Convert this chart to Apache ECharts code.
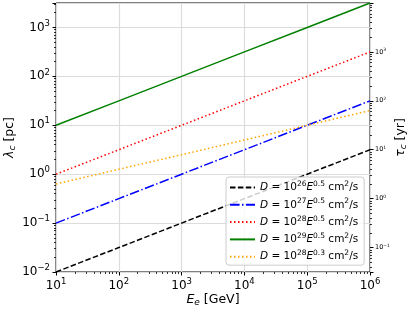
<!DOCTYPE html>
<html>
<head>
<meta charset="utf-8">
<script src="https://cdn.jsdelivr.net/npm/echarts@6/dist/echarts.min.js"></script>
<style>html,body{margin:0;padding:0;background:#fff;}#c{width:415px;height:312px;}</style>
</head>
<body>
<div id="c"></div>
<script>
// Data
const energies = [10, 100, 1000, 10000, 100000, 1000000];           // E_e [GeV]
const lamD26 = [0.01, 0.0316, 0.1, 0.316, 1.0, 3.16];              // D=1e26 E^0.5
const lamD27 = [0.1, 0.316, 1.0, 3.16, 10, 31.6];                  // D=1e27 E^0.5
const lamD28 = [1.0, 3.16, 10, 31.6, 100, 316];                    // D=1e28 E^0.5
const lamD29 = [10, 31.6, 100, 316, 1000, 3160];                   // D=1e29 E^0.5
const lamD28b = [0.63, 1.26, 2.5, 5.0, 10, 20];                    // D=1e28 E^0.3
const seriesNames = ['D26', 'D27', 'D28', 'D29', 'D28b'];
const legendLabels = {
  D26: '{i|D}{n| = 10}{s|26}{i|E}{s|0.5}{n| cm}{s|2}{n|/s}',
  D27: '{i|D}{n| = 10}{s|27}{i|E}{s|0.5}{n| cm}{s|2}{n|/s}',
  D28: '{i|D}{n| = 10}{s|28}{i|E}{s|0.5}{n| cm}{s|2}{n|/s}',
  D29: '{i|D}{n| = 10}{s|29}{i|E}{s|0.5}{n| cm}{s|2}{n|/s}',
  D28b: '{i|D}{n| = 10}{s|28}{i|E}{s|0.3}{n| cm}{s|2}{n|/s}'
};
const xRange = [10, 1e6];
const yRange = [0.01, 3162];
const tauRange = [0.0316, 9990];

const FONT = 'DejaVu Sans';
function minorTicks(lo, hi) {
  const out = [];
  for (let d = Math.floor(Math.log10(lo)); d <= Math.ceil(Math.log10(hi)); d++) {
    for (let k = 2; k <= 9; k++) {
      const v = k * Math.pow(10, d);
      if (v >= lo && v <= hi) out.push(v);
    }
  }
  return out;
}
function powLabel(v) {
  const e = Math.log10(v);
  const r = Math.round(e);
  if (Math.abs(e - r) > 1e-6) return '';
  return '{b|10}{s|' + (r < 0 ? '\u2212' + (-r) : r) + '}';
}
const bigRich = {
  b: {fontFamily: FONT, fontSize: 12, color: '#000'},
  s: {fontFamily: FONT, fontSize: 8.5, color: '#000', padding: [0, 0, 8, 0]}
};
const smallRich = {
  b: {fontFamily: FONT, fontSize: 6.5, color: '#000'},
  s: {fontFamily: FONT, fontSize: 4.5, color: '#000', padding: [0, 0, 4, 0]}
};
const nameRich = {
  n: {fontFamily: FONT, fontSize: 12.5, color: '#000'},
  g: {fontFamily: FONT, fontSize: 12.5, color: '#000', fontStyle: 'italic'},
  u: {fontFamily: FONT, fontSize: 9, color: '#000', fontStyle: 'italic', padding: [5, 0, 0, 0]}
};
function majorAxis(base) {
  return Object.assign({
    type: 'log', logBase: 10,
    axisLine: {show: false},
    axisTick: {show: true, length: 3.5, lineStyle: {color: '#000', width: 1}},
    minorTick: {show: false},
    splitLine: {show: true, lineStyle: {color: '#dcdcdc', width: 1.2}}
  }, base);
}
function minorAxis(base, lo, hi) {
  return Object.assign({
    type: 'log', logBase: 10, min: lo, max: hi,
    axisLine: {show: false},
    axisLabel: {show: false},
    splitLine: {show: false},
    axisTick: {show: true, length: 2, customValues: minorTicks(lo, hi), lineStyle: {color: '#000', width: 0.8}}
  }, base);
}

const styles = {
  D26: {color: '#000000', type: [5.5, 2.4]},
  D27: {color: '#0000ff', type: [9.6, 2.4, 1.5, 2.4]},
  D28: {color: '#ff0000', type: [1.5, 2.5]},
  D29: {color: '#008000', type: 'solid'},
  D28b: {color: '#ffa500', type: [1.5, 2.5]}
};
const seriesData = {D26: lamD26, D27: lamD27, D28: lamD28, D29: lamD29, D28b: lamD28b};

const chart = echarts.init(document.getElementById('c'), null, {renderer: 'canvas'});
chart.setOption({
  animation: false,
  backgroundColor: '#fff',
  grid: {left: 56, right: 45, top: 3, bottom: 40, containLabel: false, outerBoundsMode: 'none',
         show: true, borderColor: '#000', borderWidth: 1, backgroundColor: 'transparent'},
  xAxis: [
    majorAxis({
      min: xRange[0], max: xRange[1], position: 'bottom',
      axisLabel: {formatter: powLabel, rich: bigRich, margin: 5, showMinLabel: true, showMaxLabel: true},
      name: '{g|E}{u|e}{n| [GeV]}', nameLocation: 'middle', nameGap: 21, nameMoveOverlap: false,
      nameTextStyle: {rich: nameRich}
    }),
    minorAxis({position: 'bottom'}, xRange[0], xRange[1])
  ],
  yAxis: [
    majorAxis({
      min: yRange[0], max: yRange[1], position: 'left',
      axisLabel: {formatter: powLabel, rich: bigRich, margin: 6},
      name: '{g|\u03bb}{u|c}{n| [pc]}', nameLocation: 'middle', nameGap: 39, nameRotate: 90, nameMoveOverlap: false,
      nameTextStyle: {rich: nameRich}
    }),
    minorAxis({position: 'left'}, yRange[0], yRange[1]),
    majorAxis({
      min: tauRange[0], max: tauRange[1], position: 'right',
      splitLine: {show: false},
      axisLabel: {formatter: powLabel, rich: smallRich, margin: 5},
      name: '{g|\u03c4}{u|c}{n| [yr]}', nameLocation: 'middle', nameGap: 24, nameRotate: 90, nameMoveOverlap: false,
      nameTextStyle: {rich: nameRich}
    }),
    minorAxis({position: 'right'}, tauRange[0], tauRange[1])
  ],
  legend: {
    orient: 'vertical', left: 226, top: 177,
    data: seriesNames,
    itemWidth: 25, itemHeight: 10, itemGap: 4.3,
    padding: [3, 6, 3, 3],
    itemStyle: {opacity: 0},
    backgroundColor: 'rgba(255,255,255,0.8)', borderColor: '#cccccc', borderWidth: 1, borderRadius: 3,
    formatter: function (name) { return legendLabels[name]; },
    textStyle: {
      rich: {
        n: {fontFamily: FONT, fontSize: 10.5, color: '#000', lineHeight: 14},
        i: {fontFamily: FONT, fontSize: 10.5, color: '#000', fontStyle: 'italic', lineHeight: 14},
        s: {fontFamily: FONT, fontSize: 7.5, color: '#000', padding: [0, 0, 7, 0]}
      }
    }
  },
  series: seriesNames.map(function (nm) {
    return {
      name: nm, type: 'line', xAxisIndex: 0, yAxisIndex: 0,
      data: energies.map(function (e, i) { return [e, seriesData[nm][i]]; }),
      symbol: 'none', showSymbol: false,
      lineStyle: {color: styles[nm].color, width: 1.5, type: styles[nm].type},
      itemStyle: {color: styles[nm].color},
      z: 3
    };
  })
});
</script>
</body>
</html>
